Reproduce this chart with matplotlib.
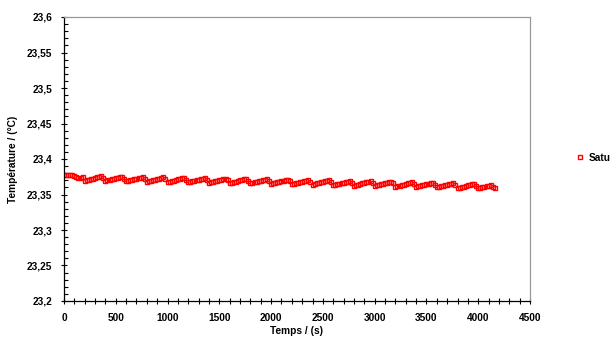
import numpy as np
import matplotlib
matplotlib.use("Agg")
import matplotlib.pyplot as plt
from matplotlib.ticker import MultipleLocator, FuncFormatter
from matplotlib.lines import Line2D

plt.rcParams['font.family'] = ['Liberation Sans', 'DejaVu Sans']

series_name = "Satu"
x_label = "Temps / (s)"
y_label = "Température / (°C)"

# time in seconds (sampled every 20 s)
time_s = np.arange(0, 4161, 20)

temperature = [
    23.3770, 23.3775, 23.3772, 23.3776, 23.3770, 23.3755, 23.3740, 23.3730, 23.3738, 23.3745,
    23.3695, 23.3703, 23.3710, 23.3717, 23.3725, 23.3733, 23.3740, 23.3747, 23.3755, 23.3730,
    23.3690, 23.3698, 23.3705, 23.3712, 23.3720, 23.3728, 23.3735, 23.3742, 23.3750, 23.3725,
    23.3685, 23.3693, 23.3700, 23.3707, 23.3715, 23.3723, 23.3730, 23.3737, 23.3745, 23.3720,
    23.3680, 23.3688, 23.3695, 23.3702, 23.3710, 23.3718, 23.3725, 23.3732, 23.3740, 23.3715,
    23.3675, 23.3683, 23.3690, 23.3697, 23.3705, 23.3713, 23.3720, 23.3727, 23.3735, 23.3710,
    23.3670, 23.3678, 23.3685, 23.3692, 23.3700, 23.3708, 23.3715, 23.3722, 23.3730, 23.3705,
    23.3665, 23.3673, 23.3680, 23.3687, 23.3695, 23.3703, 23.3710, 23.3717, 23.3725, 23.3700,
    23.3660, 23.3668, 23.3675, 23.3682, 23.3690, 23.3698, 23.3705, 23.3712, 23.3720, 23.3695,
    23.3655, 23.3663, 23.3670, 23.3677, 23.3685, 23.3693, 23.3700, 23.3707, 23.3715, 23.3690,
    23.3650, 23.3658, 23.3665, 23.3672, 23.3680, 23.3688, 23.3695, 23.3702, 23.3710, 23.3685,
    23.3645, 23.3653, 23.3660, 23.3667, 23.3675, 23.3683, 23.3690, 23.3697, 23.3705, 23.3680,
    23.3640, 23.3648, 23.3655, 23.3662, 23.3670, 23.3678, 23.3685, 23.3692, 23.3700, 23.3675,
    23.3630, 23.3638, 23.3645, 23.3652, 23.3660, 23.3668, 23.3675, 23.3682, 23.3690, 23.3665,
    23.3625, 23.3633, 23.3640, 23.3647, 23.3655, 23.3663, 23.3670, 23.3677, 23.3685, 23.3660,
    23.3620, 23.3628, 23.3635, 23.3642, 23.3650, 23.3658, 23.3665, 23.3672, 23.3680, 23.3655,
    23.3610, 23.3618, 23.3625, 23.3632, 23.3640, 23.3648, 23.3655, 23.3662, 23.3670, 23.3645,
    23.3605, 23.3613, 23.3620, 23.3627, 23.3635, 23.3643, 23.3650, 23.3657, 23.3665, 23.3640,
    23.3600, 23.3608, 23.3615, 23.3622, 23.3630, 23.3638, 23.3645, 23.3652, 23.3660, 23.3635,
    23.3590, 23.3598, 23.3605, 23.3612, 23.3620, 23.3628, 23.3635, 23.3642, 23.3650, 23.3625,
    23.3585, 23.3593, 23.3600, 23.3607, 23.3614, 23.3621, 23.3628, 23.3605, 23.3595,
]

fig = plt.figure(figsize=(6.16, 3.38), dpi=100)
ax = fig.add_axes([64/616, 1-301/338, (530-64)/616, (301-17)/338])

ax.plot(time_s, temperature, linestyle='none', marker='s', markersize=3.4,
        markerfacecolor='none', markeredgecolor='#ff0000', markeredgewidth=1.0)

ax.set_xlim(0, 4500)
ax.set_ylim(23.2, 23.6)
ax.xaxis.set_major_locator(MultipleLocator(500))
ax.xaxis.set_minor_locator(MultipleLocator(100))
ax.yaxis.set_major_locator(MultipleLocator(0.05))
ax.yaxis.set_minor_locator(MultipleLocator(0.01))

ax.yaxis.set_major_formatter(FuncFormatter(lambda v, p: f"{round(v, 2):g}".replace('.', ',')))
ax.xaxis.set_major_formatter(FuncFormatter(lambda v, p: f"{int(round(v))}"))

fs = 7.3
ax.tick_params(axis='x', which='both', direction='inout', length=5, width=0.8,
               labelsize=fs, pad=6)
ax.tick_params(axis='y', which='major', direction='inout', length=5, width=0.8,
               labelsize=fs, pad=6)
ax.tick_params(axis='y', which='minor', direction='in', length=3, width=0.8)
for lab in ax.get_xticklabels() + ax.get_yticklabels():
    lab.set_fontweight('bold')

for s in ['left', 'bottom']:
    ax.spines[s].set_color('black')
    ax.spines[s].set_linewidth(0.9)
for s in ['top', 'right']:
    ax.spines[s].set_color('#999999')
    ax.spines[s].set_linewidth(0.9)

ax.set_xlabel(x_label, fontsize=fs, fontweight='bold', labelpad=2)
ax.set_ylabel(y_label, fontsize=fs, fontweight='bold', labelpad=6)

handle = Line2D([], [], linestyle='none', marker='s', markersize=3.4,
                markerfacecolor='none', markeredgecolor='#ff0000', markeredgewidth=1.0)
fig.legend([handle], [series_name], loc='center left',
           bbox_to_anchor=(573/616, 1-158/338), frameon=False,
           prop={'size': fs, 'weight': 'bold'}, handlelength=0.6,
           handletextpad=0.5, borderaxespad=0)

fig.savefig("out.png", dpi=100)
